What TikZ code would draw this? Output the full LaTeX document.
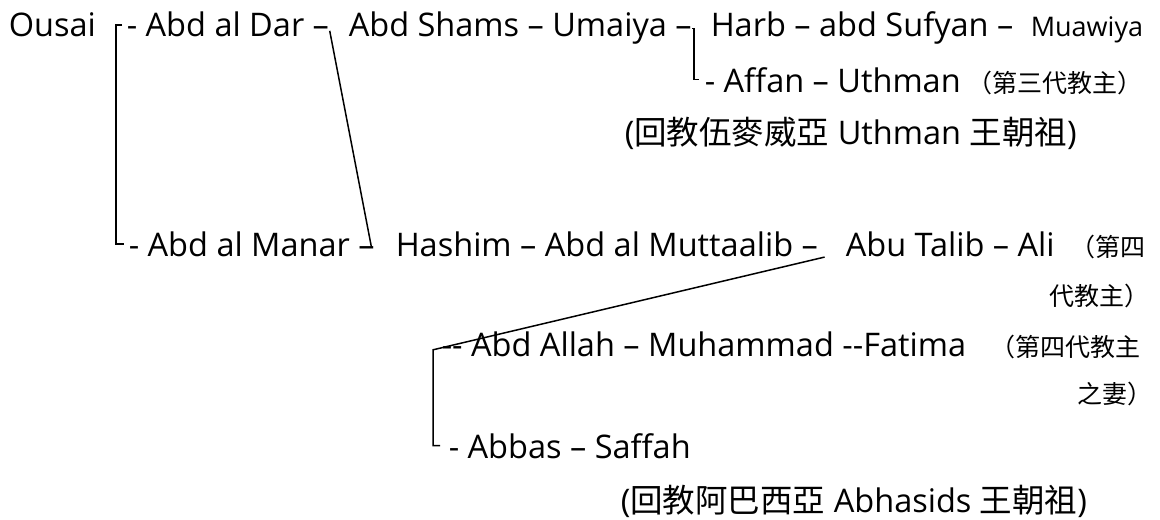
\documentclass[tikz,border=0pt]{standalone}
\usepackage{fontspec}
\setmainfont{Open Sans}
\newfontfamily\cjk{Noto Sans CJK TC}
\newcommand\cjktext[1]{{\cjk #1}}
\def\yone{37}
\def\ytwo{92}
\def\ythree{144}
\def\yfour{256}
\def\yfive{305}
\def\ysix{356}
\def\yseven{403}
\def\yeight{458}
\def\ynine{512}

\begin{document}
\begin{tikzpicture}[x=0.5pt,y=-0.5pt,line width=0.75pt,
  person/.style={anchor=base west,inner sep=0pt,font=\fontsize{16.25}{19}\selectfont},
  small person/.style={person,font=\fontsize{13.5}{16}\selectfont},
  remark/.style={anchor=base west,inner sep=0pt,font=\cjk\fontsize{12.5}{15}\selectfont}]

\useasboundingbox (0,0) rectangle (1160,519);

% Abd al Dar branch
\node[person] at (8,\yone) (ousai) {Ousai};
\node[person] at (126,\yone) (dar) {- Abd al Dar –};
\node[person] at (348,\yone) (shams) {Abd Shams – Umaiya –};
\node[person] at (710,\yone) (harb) {Harb – abd Sufyan –};
\node[small person] at (1030,\yone) (muawiya) {Muawiya};
\node[person] at (704,\ytwo) (affan) {- Affan – Uthman};
\node[remark] at (967,\ytwo) (third) {（第三代教主）};
\node[person] at (624,\ythree) (umayyad) {(\cjktext{回教伍麥威亞} Uthman \cjktext{王朝祖})};

% Abd al Manar branch
\node[person] at (128,\yfour) (manar) {- Abd al Manar –};
\node[person] at (395,\yfour) (hashim) {Hashim – Abd al Muttaalib –};
\node[person] at (845,\yfour) (ali) {Abu Talib – Ali};
\node[remark] at (1070,\yfour) (fourth) {（第四};
\node[remark] at (1049,\yfive) (fourthb) {代教主）};
\node[person] at (441,\ysix) (allah) {-{}- Abd Allah – Muhammad -{}-Fatima};
\node[remark] at (990,\ysix) (wife) {（第四代教主};
\node[remark] at (1077,\yseven) (wifeb) {之妻）};
\node[person] at (448,\yeight) (abbas) {- Abbas – Saffah};
\node[person] at (620,\ynine) (abbasid) {(\cjktext{回教阿巴西亞} Abhasids \cjktext{王朝祖})};

\draw ([xshift=-2pt]dar.west) -- ++(-6,0) |- ([xshift=-2pt]manar.west);
\draw ([yshift=-3pt]dar.east) -- ([xshift=-2pt,yshift=-1.5pt]manar.east);
\draw (shams.east) -| ([xshift=-5pt]affan.west) -- ++(5,0);
\draw ([xshift=3pt]hashim.south east) -- ([xshift=-4pt,yshift=-3pt]allah.west)
  |- ([xshift=-4pt]abbas.west);

\end{tikzpicture}
\end{document}
